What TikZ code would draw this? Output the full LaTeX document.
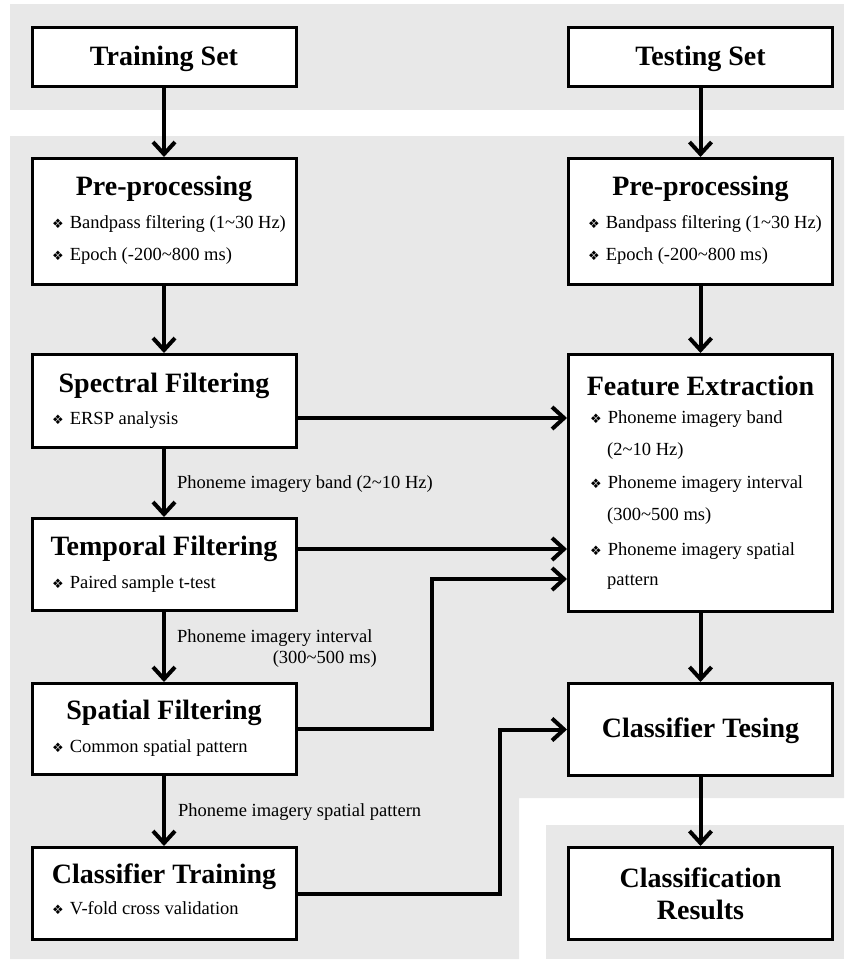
\documentclass[tikz,border=0pt]{standalone}
\usepackage{fontspec}
\setmainfont{Liberation Serif}
\newfontfamily\dingfont{DejaVu Sans}
\usetikzlibrary{arrows.meta,calc}
\definecolor{bggray}{HTML}{E8E8E8}
\newcommand{\rng}{\textasciitilde}
\newcommand{\bul}{{\dingfont\fontsize{13}{13}\selectfont\char"2756}\hspace{6pt}}
\tikzset{
  stage/.style={draw,line width=3pt,fill=white,minimum width=264pt,inner sep=0pt},
  ttl/.style={font=\fontsize{28}{32}\selectfont\bfseries,inner sep=0pt,anchor=base},
  itm/.style={font=\fontsize{18.5}{21}\selectfont,inner sep=0pt,anchor=base west},
  lbl/.style={font=\fontsize{18.5}{21}\selectfont,inner sep=0pt,anchor=base west},
  arr/.style={line width=4pt,-{Straight Barb[length=12pt,width=22pt]}},
}
\begin{document}
\begin{tikzpicture}[x=1pt,y=-1pt]
\useasboundingbox (0,0) rectangle (844,961);
% background bands
\fill[bggray] (10,4) rectangle (844,110);
\fill[bggray] (10,136) -- (844,136) -- (844,798) -- (519,798) -- (519,959) -- (10,959) -- cycle;
\fill[bggray] (546,825) rectangle (844,959);

% training column
\node[stage,minimum height=59pt] (train) at (164,57) {};
\node[stage,minimum height=126pt] (preL) at (164,221.5) {};
\node[stage,minimum height=93pt] (spec) at (164,401) {};
\node[stage,minimum height=92pt] (temp) at (164,564.5) {};
\node[stage,minimum height=91pt] (spat) at (164,729) {};
\node[stage,minimum height=92pt] (ctrain) at (164,893.5) {};

% testing column
\node[stage,minimum height=59pt] (test) at (700.5,57) {};
\node[stage,minimum height=126pt] (preR) at (700.5,221.5) {};
\node[stage,minimum height=257pt] (feat) at (700.5,483) {};
\node[stage,minimum height=92pt] (ctest) at (700.5,729.5) {};
\node[stage,minimum height=92pt] (cres) at (700.5,893.5) {};

% titles
\node[ttl] (train-t) at (164,65) {Training Set};
\node[ttl] (preL-t) at (164,195) {Pre-processing};
\node[ttl] (spec-t) at (164,392) {Spectral Filtering};
\node[ttl] (temp-t) at (164,555) {Temporal Filtering};
\node[ttl] (spat-t) at (164,719) {Spatial Filtering};
\node[ttl] (ctrain-t) at (164,883) {Classifier Training};
\node[ttl] (test-t) at (700.5,65) {Testing Set};
\node[ttl] (preR-t) at (700.5,195) {Pre-processing};
\node[ttl] (feat-t) at (700.5,395) {Feature Extraction};
\node[ttl] (ctest-t) at (700.5,737) {Classifier Tesing};
\node[ttl,align=center,anchor=center] (cres-t) at (cres) {Classification\\Results};

% bullet items
\foreach \xx/\nm in {52/preL,588/preR} {
  \node[itm] (\nm-1) at (\xx,228) {\bul Bandpass filtering (1\rng30 Hz)};
  \node[itm] (\nm-2) at (\xx,260) {\bul Epoch (-200\rng800 ms)};
}
\node[itm] (spec-1) at (52,424) {\bul ERSP analysis};
\node[itm] (temp-1) at (52,588) {\bul Paired sample t-test};
\node[itm] (spat-1) at (52,752) {\bul Common spatial pattern};
\node[itm] (ctrain-1) at (52,914) {\bul V-fold cross validation};
\node[itm] (feat-1) at (590,423) {\bul Phoneme imagery band};
\node[itm] (feat-1b) at (607,455) {(2\rng10 Hz)};
\node[itm] (feat-2) at (590,488) {\bul Phoneme imagery interval};
\node[itm] (feat-2b) at (607,520) {(300\rng500 ms)};
\node[itm] (feat-3) at (590,555) {\bul Phoneme imagery spatial};
\node[itm] (feat-3b) at (607,585) {pattern};

% vertical flow
\draw[arr] (train) -- (preL);
\draw[arr] (preL) -- (spec);
\draw[arr] (spec) -- (temp);
\draw[arr] (temp) -- (spat);
\draw[arr] (spat) -- (ctrain);
\draw[arr] (test) -- (preR);
\draw[arr] (preR) -- (feat);
\draw[arr] (feat) -- (ctest);
\draw[arr] (ctest) -- (cres);

% arrow labels
\node[lbl] (band-l) at (177,488) {Phoneme imagery band (2\rng10 Hz)};
\node[lbl] (int-l) at (177,642) {Phoneme imagery interval};
\node[lbl,anchor=base east] (int-l2) at (377,663) {(300\rng500 ms)};
\node[lbl] (pat-l) at (178,816) {Phoneme imagery spatial pattern};

% cross links
\coordinate (s1) at ([yshift=-17pt]spec.east);
\coordinate (t1) at ([yshift=15.5pt]temp.east);
\coordinate (f3) at ([yshift=-96pt]feat.west);
\coordinate (bend) at ($(spat.east)!.5!(f3)$);
\draw[arr] (s1) -- (s1 -| feat.west);
\draw[arr] (t1) -- (t1 -| feat.west);
\draw[arr] (spat.east) -- (bend |- spat.east) |- (f3);
\draw[arr] (ctrain.east) -- ++(202,0) |- (ctest.west);
\end{tikzpicture}
\end{document}
